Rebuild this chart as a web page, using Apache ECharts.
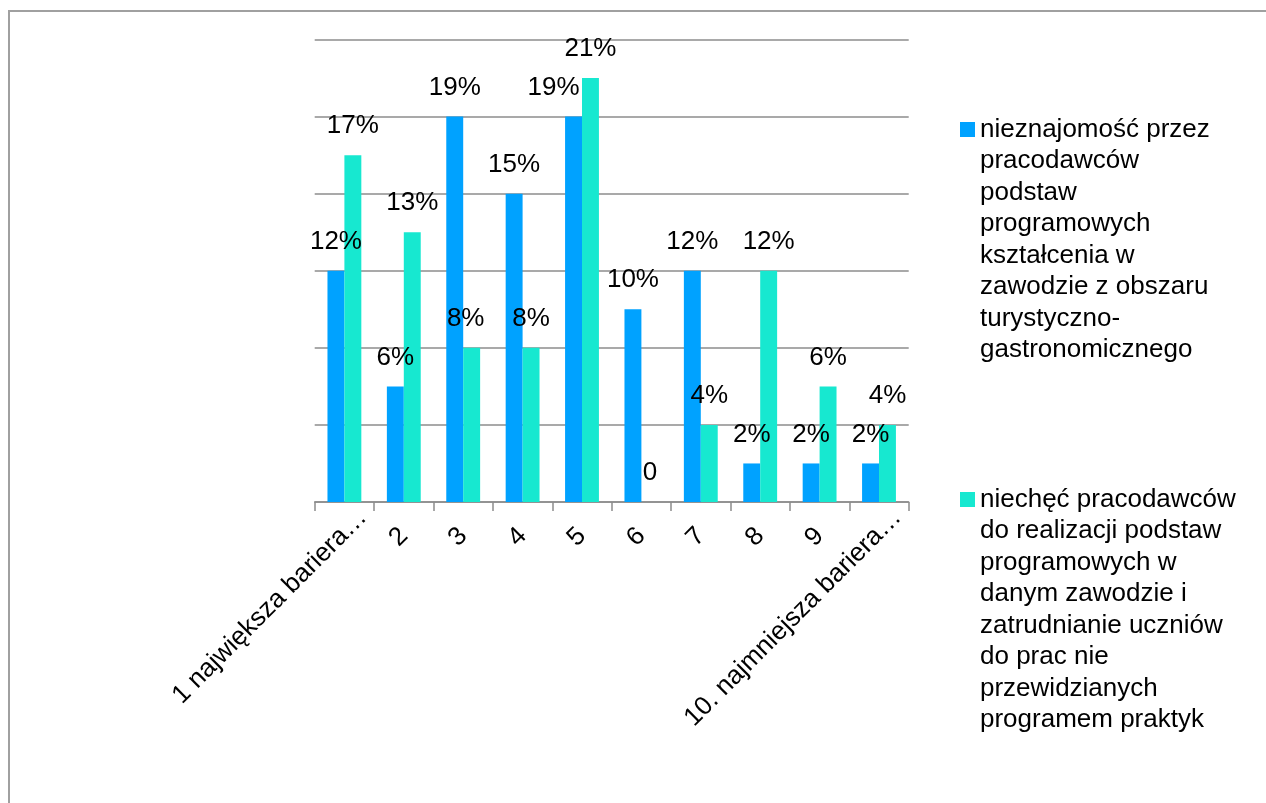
<!DOCTYPE html>
<html>
<head>
<meta charset="utf-8">
<title>Bariery w realizacji praktyk</title>
<script src="https://cdn.jsdelivr.net/npm/echarts@6/dist/echarts.min.js"></script>
<style>
  html, body { margin: 0; padding: 0; background: #fff; }
  #chart { width: 1266px; height: 803px; }
</style>
</head>
<body>
<div id="chart"></div>
<script>
// Categories: barrier rank from 1 (largest) to 10 (smallest)
const categories = ['1 największa bariera…', '2', '3', '4', '5', '6', '7', '8', '9', '10. najmniejsza bariera…'];

// Number of respondents who gave each rank, and the total asked
const respondents = 52;
const countsNieznajomosc = [6, 3, 10, 8, 10, 5, 6, 1, 1, 1];
const countsNiechec = [9, 7, 4, 4, 11, 0, 2, 6, 3, 2];

// Legend texts, broken into lines
const nameNieznajomosc = 'nieznajomość przez\npracodawców\npodstaw\nprogramowych\nkształcenia w\nzawodzie z obszaru\nturystyczno-\ngastronomicznego';
const nameNiechec = 'niechęć pracodawców\ndo realizacji podstaw\nprogramowych w\ndanym zawodzie i\nzatrudnianie uczniów\ndo prac nie\nprzewidzianych\nprogramem praktyk';

// Value axis: share of respondents, gridlines every 2 respondents
const axisStep = 200 / respondents;
const axisMax = 1200 / respondents;

const toShare = arr => arr.map(c => c / respondents * 100);

// Hand-placed label nudges (series, category index) -> [dx, dy]
const labelNudge = {
  blue: { 4: [-20, 0] },
  green: { 2: [-6, 0] }
};
// Long rotated category labels sit further along their baseline
const axisLabelShift = { 0: -26, 9: -26 };

const FONT = 'Liberation Sans, Arial, Helvetica, sans-serif';

function buildData(values, nudges) {
  return values.map((v, i) => {
    const item = { value: v };
    if (nudges[i]) item.label = { offset: nudges[i] };
    return item;
  });
}

const labelCfg = {
  show: true,
  position: 'top',
  distance: 16,
  fontFamily: FONT,
  fontSize: 26,
  color: '#000',
  formatter: p => (p.value === 0 ? '0' : Math.round(p.value) + '%')
};

const chart = echarts.init(document.getElementById('chart'), null, { renderer: 'canvas' });

chart.setOption({
  animation: false,
  backgroundColor: '#fff',
  textStyle: { fontFamily: FONT },
  graphic: [{
    type: 'rect',
    shape: { x: 9, y: 11, width: 1300, height: 900 },
    style: { fill: 'none', stroke: '#a0a0a0', lineWidth: 2 },
    silent: true,
    z: -1
  }],
  grid: {
    left: 314.7,
    right: 357.3,
    top: 39.5,
    bottom: 301,
    containLabel: false
  },
  legend: {
    orient: 'vertical',
    left: 960,
    top: 113.75,
    padding: 0,
    itemWidth: 15,
    itemHeight: 252,
    itemGap: 118,
    icon: 'path://M0,8.25H15V23.25H0Z M0,0 M15,252',
    selectedMode: false,
    textStyle: {
      fontFamily: FONT,
      fontSize: 26,
      lineHeight: 31.5,
      color: '#000'
    },
    data: [nameNieznajomosc, nameNiechec]
  },
  xAxis: {
    type: 'category',
    data: categories.map((c, i) => (axisLabelShift[i] != null
      ? { value: c, textStyle: { padding: [0, axisLabelShift[i], 0, 0] } }
      : c)),
    axisLine: { show: true, lineStyle: { color: '#8c8c8c', width: 1.5 } },
    axisTick: { show: true, length: 9, lineStyle: { color: '#8c8c8c', width: 1.5 } },
    axisLabel: {
      rotate: 45,
      margin: 30,
      interval: 0,
      fontFamily: FONT,
      fontSize: 26,
      color: '#000'
    }
  },
  yAxis: {
    type: 'value',
    min: 0,
    max: axisMax,
    interval: axisStep,
    axisLine: { show: false },
    axisTick: { show: false },
    axisLabel: { show: false },
    splitLine: { show: true, lineStyle: { color: '#8c8c8c', width: 1.5 } }
  },
  series: [
    {
      name: nameNieznajomosc,
      type: 'bar',
      barGap: 0,
      barCategoryGap: '43%',
      itemStyle: { color: '#00a2ff' },
      label: labelCfg,
      data: buildData(toShare(countsNieznajomosc), labelNudge.blue)
    },
    {
      name: nameNiechec,
      type: 'bar',
      barGap: 0,
      barCategoryGap: '43%',
      itemStyle: { color: '#17e8d0' },
      label: labelCfg,
      data: buildData(toShare(countsNiechec), labelNudge.green)
    }
  ]
});
</script>
</body>
</html>
